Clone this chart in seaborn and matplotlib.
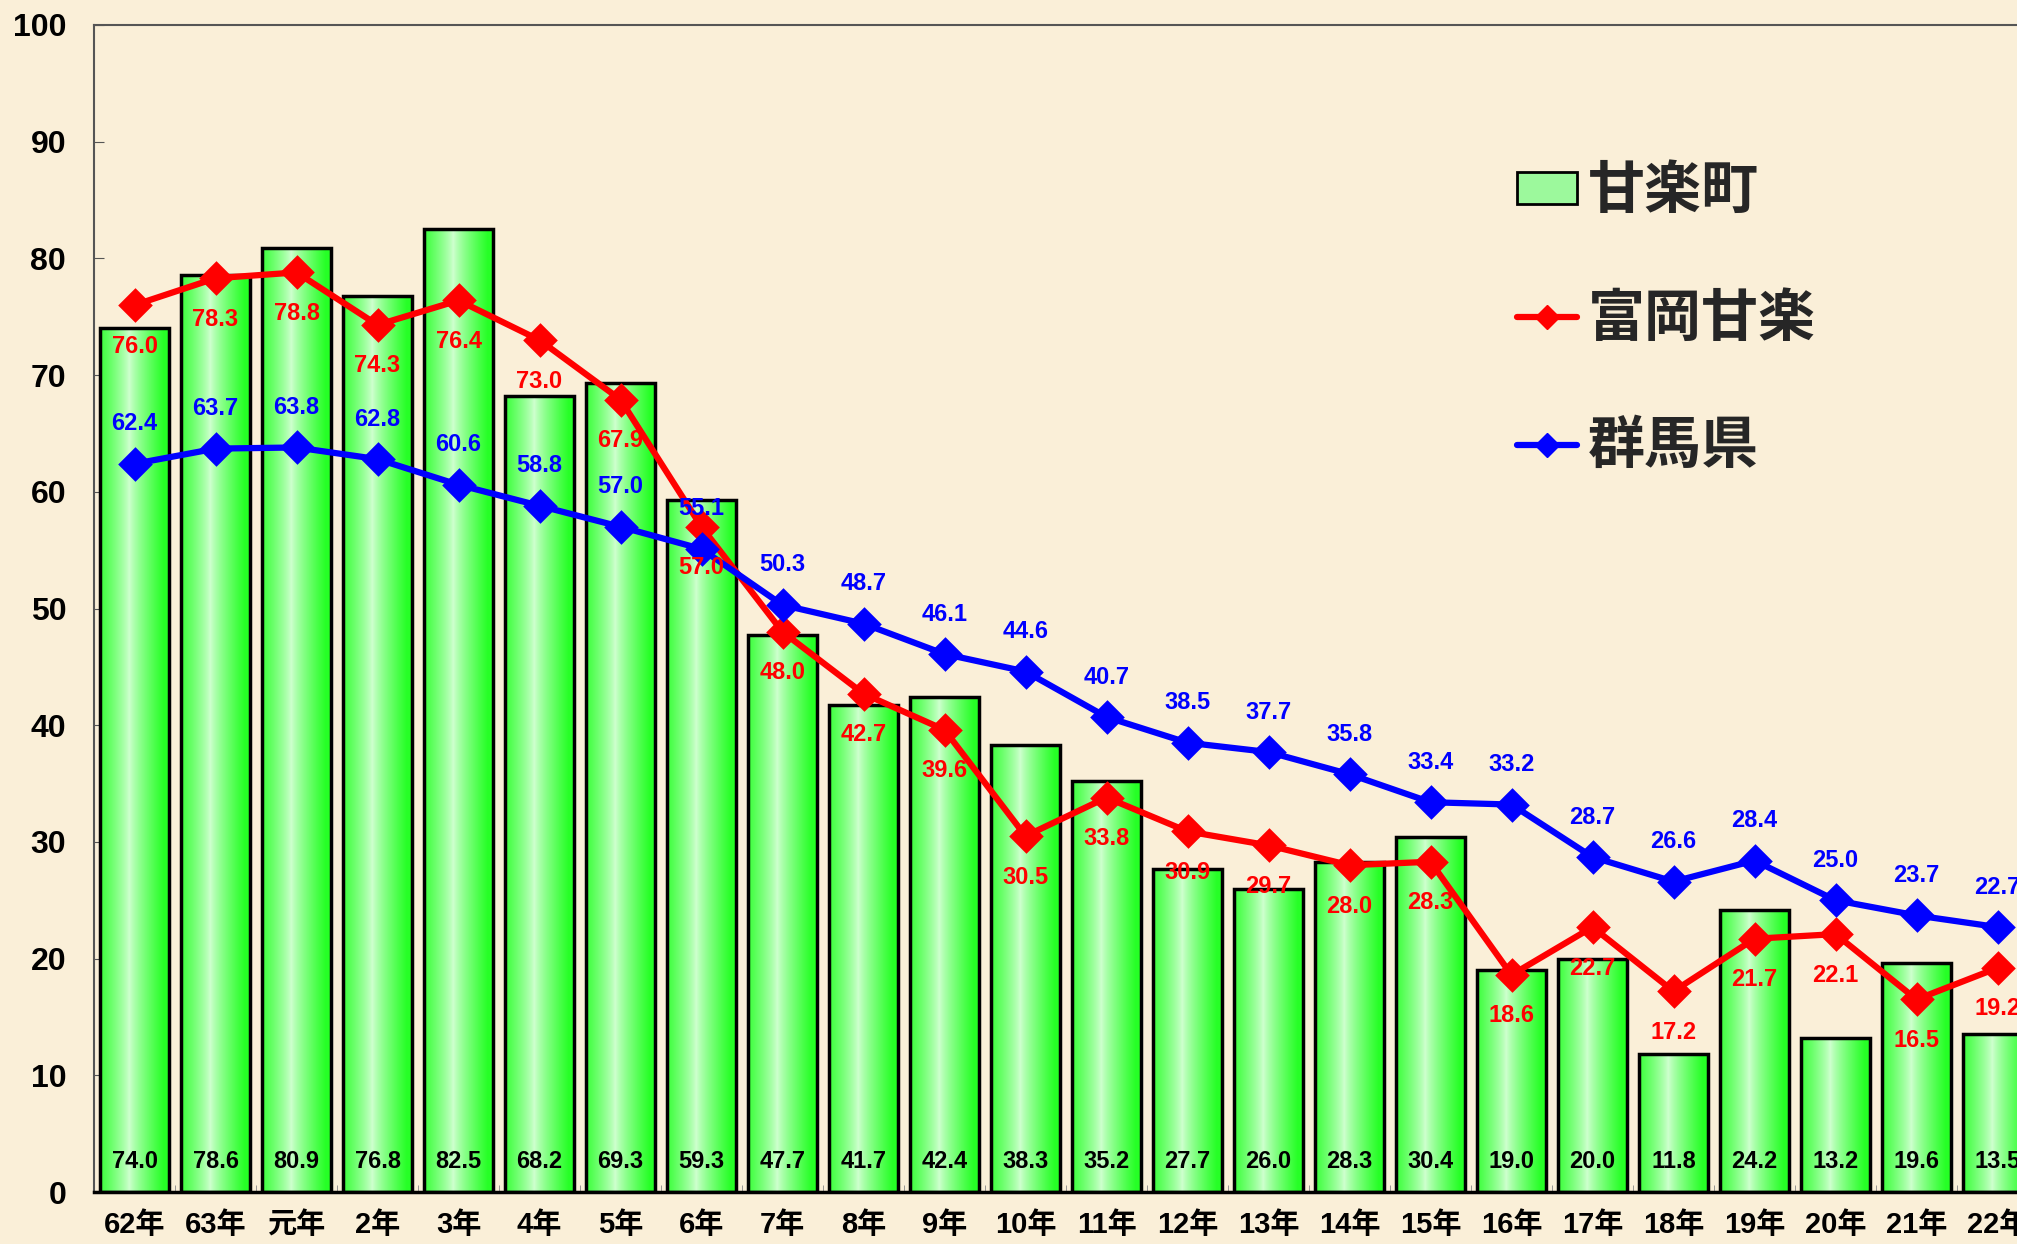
import matplotlib
matplotlib.use('Agg')
import matplotlib.pyplot as plt
from matplotlib.patches import Patch
from matplotlib.lines import Line2D
import numpy as np
import seaborn as sns
import pandas as pd

# 年度ラベル
years = ['62年', '63年', '元年', '2年', '3年', '4年', '5年', '6年', '7年', '8年', '9年', '10年',
         '11年', '12年', '13年', '14年', '15年', '16年', '17年', '18年', '19年', '20年', '21年', '22年']
# 甘楽町 (棒)
kanra = [74.0, 78.6, 80.9, 76.8, 82.5, 68.2, 69.3, 59.3, 47.7, 41.7, 42.4, 38.3,
         35.2, 27.7, 26.0, 28.3, 30.4, 19.0, 20.0, 11.8, 24.2, 13.2, 19.6, 13.5]
# 富岡甘楽 (赤線)
tomioka = [76.0, 78.3, 78.8, 74.3, 76.4, 73.0, 67.9, 57.0, 48.0, 42.7, 39.6, 30.5,
           33.8, 30.9, 29.7, 28.0, 28.3, 18.6, 22.7, 17.2, 21.7, 22.1, 16.5, 19.2]
# 群馬県 (青線)
gunma = [62.4, 63.7, 63.8, 62.8, 60.6, 58.8, 57.0, 55.1, 50.3, 48.7, 46.1, 44.6,
         40.7, 38.5, 37.7, 35.8, 33.4, 33.2, 28.7, 26.6, 28.4, 25.0, 23.7, 22.7]

BG = '#FAEFD8'
W, H = 2017, 1244
NUM_FONT = ['Liberation Sans', 'DejaVu Sans']
JP_FONT = ['Liberation Sans', 'Noto Sans CJK JP', 'DejaVu Sans']

sns.set_style('ticks')
plt.rcParams['font.family'] = JP_FONT

df = pd.DataFrame({'year': years, 'kanra': kanra, 'tomioka': tomioka, 'gunma': gunma})

fig = plt.figure(figsize=(W / 100, H / 100), dpi=100)
fig.patch.set_facecolor(BG)
ax = fig.add_axes([94 / W, 1 - 1192 / H, 1944 / W, 1167 / H])
ax.set_facecolor(BG)

# 棒グラフ
sns.barplot(data=df, x='year', y='kanra', ax=ax, width=0.84, facecolor='none',
            edgecolor='black', linewidth=2.5, zorder=2)

# 棒のグラデーション
grad = np.abs(np.linspace(-1, 1, 256) + 0.15)
grad = np.clip(grad, 0, 1) ** 0.8
c_edge = np.array([0.15, 1.0, 0.15])
c_mid = np.array([0.82, 1.0, 0.82])
img = (c_mid[None, :] * (1 - grad[:, None]) + c_edge[None, :] * grad[:, None])[None, :, :]
for p in ax.patches:
    x0, y0 = p.get_x(), p.get_y()
    im = ax.imshow(img, extent=(x0, x0 + p.get_width(), y0, y0 + p.get_height()),
                   aspect='auto', zorder=1.5, interpolation='bilinear')
    im.set_clip_path(p)

# 折れ線
sns.pointplot(data=df, x='year', y='tomioka', ax=ax, color='#FF0000', markers='D',
              markersize=14, linewidth=4.5, errorbar=None, zorder=4)
sns.pointplot(data=df, x='year', y='gunma', ax=ax, color='#0000FF', markers='D',
              markersize=14, linewidth=4.5, errorbar=None, zorder=4)

ax.set_xlim(-0.5, len(years) - 0.5)
ax.set_ylim(0, 100)
ax.set_yticks(np.arange(0, 101, 10))
ax.set_xlabel('')
ax.set_ylabel('')

# 数値ラベル
for i in range(len(years)):
    ax.text(i, 2.6, f'{kanra[i]:.1f}', ha='center', va='center', fontsize=17,
            fontweight='bold', color='black', family=NUM_FONT, zorder=5)
    ax.annotate(f'{tomioka[i]:.1f}', (i, tomioka[i]), xytext=(0, -41), textcoords='offset pixels',
                ha='center', va='center', fontsize=17, fontweight='bold', color='#FF0000',
                family=NUM_FONT, zorder=5)
    ax.annotate(f'{gunma[i]:.1f}', (i, gunma[i]), xytext=(0, 40), textcoords='offset pixels',
                ha='center', va='center', fontsize=17, fontweight='bold', color='#0000FF',
                family=NUM_FONT, zorder=5)

# 軸
for s in ['left', 'top']:
    ax.spines[s].set_color('#555555')
    ax.spines[s].set_linewidth(1.5)
ax.spines['right'].set_visible(False)
ax.spines['bottom'].set_color('black')
ax.spines['bottom'].set_linewidth(2.5)
ax.tick_params(axis='y', direction='in', length=7, color='#555555', pad=20, labelsize=23,
               labelcolor='black')
ax.tick_params(axis='x', length=0, pad=14, labelsize=21, labelcolor='black')
ax.set_xticks(np.arange(-0.5, len(years), 1), minor=True)
ax.tick_params(axis='x', which='minor', direction='in', length=5, color='#888888')
for t in ax.get_yticklabels():
    t.set_fontweight('bold')
    t.set_family(NUM_FONT)
for t in ax.get_xticklabels():
    t.set_fontweight('bold')

# 凡例
handles = [
    Patch(facecolor='#9CF99C', edgecolor='black', linewidth=2),
    Line2D([0], [0], color='#FF0000', lw=4.5, marker='D', markersize=12),
    Line2D([0], [0], color='#0000FF', lw=4.5, marker='D', markersize=12),
]
ax.legend(handles, ['甘楽町', '富岡甘楽', '群馬県'], loc='upper left',
          bbox_to_anchor=(1517 / W, 1 - 162 / H), bbox_transform=fig.transFigure,
          frameon=False, handlelength=1.05, handleheight=0.5,
          handletextpad=0.2, labelspacing=1.22, borderpad=0, borderaxespad=0,
          prop={'family': ['Noto Sans CJK JP'], 'size': 41, 'weight': 'bold'})

fig.savefig('out.png', dpi=100, facecolor=BG)
